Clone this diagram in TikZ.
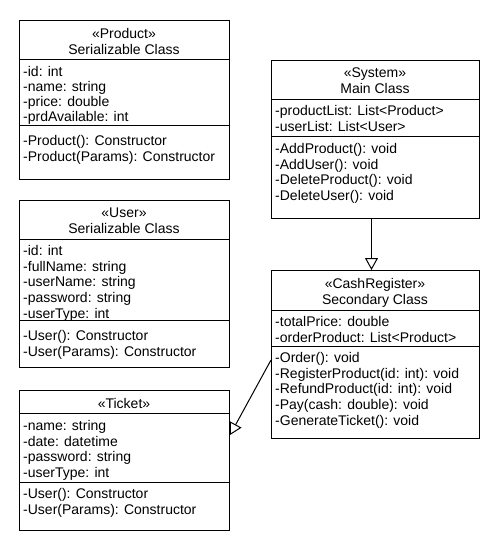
\documentclass[tikz,border=0pt]{standalone}
\usepackage{fontspec}
\setmainfont{Liberation Sans}
\usetikzlibrary{arrows.meta,calc}
\newcommand\umltext{\fontsize{14}{15.8}\selectfont}

\tikzset{
  classbox/.style={draw, line width=1pt, anchor=north west, inner sep=0pt},
  compsep/.style={line width=1pt},
  headtext/.style={anchor=north, align=center, inner sep=0pt, font=\umltext},
  itemtext/.style={anchor=north west, align=left, inner sep=0pt, font=\umltext},
  inherits/.style={line width=1pt, -{Triangle[open, length=12pt, width=13pt]}},
}

\begin{document}
\begin{tikzpicture}[x=1pt, y=-1pt]
\useasboundingbox[fill=white] (0,0) rectangle (500,550);

% ---- Product ----
\node[classbox, minimum width=210pt, minimum height=159pt] (product) at (19,20) {};
\draw[compsep] ($(product.north west)+(0,39)$) -- ($(product.north east)+(0,39)$);
\draw[compsep] ($(product.north west)+(0,105)$) -- ($(product.north east)+(0,105)$);
\node[headtext] (product-head) at (124,28) {«Product»\\Serializable Class};
\node[itemtext, font=\fontsize{14}{15.2}\selectfont] (product-attr) at (23,66) {-id: int\\-name: string\\-price: double\\-prdAvailable: int};
\node[itemtext] (product-ops) at (23,135) {-Product(): Constructor\\-Product(Params): Constructor};

% ---- User ----
\node[classbox, minimum width=210pt, minimum height=167pt] (user) at (19,200) {};
\draw[compsep] ($(user.north west)+(0,39)$) -- ($(user.north east)+(0,39)$);
\draw[compsep] ($(user.north west)+(0,120)$) -- ($(user.north east)+(0,120)$);
\node[headtext] (user-head) at (124,208) {«User»\\Serializable Class};
\node[itemtext] (user-attr) at (23,245) {-id: int\\-fullName: string\\-userName: string\\-password: string\\-userType: int};
\node[itemtext] (user-ops) at (23,330) {-User(): Constructor\\-User(Params): Constructor};

% ---- Ticket ----
\node[classbox, minimum width=210pt, minimum height=140pt] (ticket) at (19,390) {};
\draw[compsep] ($(ticket.north west)+(0,23)$) -- ($(ticket.north east)+(0,23)$);
\draw[compsep] ($(ticket.north west)+(0,92)$) -- ($(ticket.north east)+(0,92)$);
\node[headtext] (ticket-head) at (124,398) {«Ticket»};
\node[itemtext] (ticket-attr) at (23,420) {-name: string\\-date: datetime\\-password: string\\-userType: int};
\node[itemtext] (ticket-ops) at (23,488) {-User(): Constructor\\-User(Params): Constructor};

% ---- Main Class ----
\node[classbox, minimum width=208pt, minimum height=158pt] (main) at (271,60) {};
\draw[compsep] ($(main.north west)+(0,39)$) -- ($(main.north east)+(0,39)$);
\draw[compsep] ($(main.north west)+(0,76)$) -- ($(main.north east)+(0,76)$);
\node[headtext] (main-head) at (375,68) {«System»\\Main Class};
\node[itemtext] (main-attr) at (275,105) {-productList: List<Product>\\-userList: List<User>};
\node[itemtext] (main-ops) at (275,143) {-AddProduct(): void\\-AddUser(): void\\-DeleteProduct(): void\\-DeleteUser(): void};

% ---- CashRegister ----
\node[classbox, minimum width=208pt, minimum height=168pt] (cash) at (271,270) {};
\draw[compsep] ($(cash.north west)+(0,40)$) -- ($(cash.north east)+(0,40)$);
\draw[compsep] ($(cash.north west)+(0,76)$) -- ($(cash.north east)+(0,76)$);
\node[headtext] (cash-head) at (375,278) {«CashRegister»\\Secondary Class};
\node[itemtext] (cash-attr) at (275,316) {-totalPrice: double\\-orderProduct: List<Product>};
\node[itemtext] (cash-ops) at (275,352) {-Order(): void\\-RegisterProduct(id: int): void\\-RefundProduct(id: int): void\\-Pay(cash: double): void\\-GenerateTicket(): void};

% ---- Generalisations ----
\draw[inherits] ([xshift=-4pt]main.south) -- ([xshift=-4pt]cash.north);
\draw[inherits] ($(cash.north west)+(0,90)$) -- ($(ticket.north east)+(0,45)$);
\end{tikzpicture}
\end{document}
